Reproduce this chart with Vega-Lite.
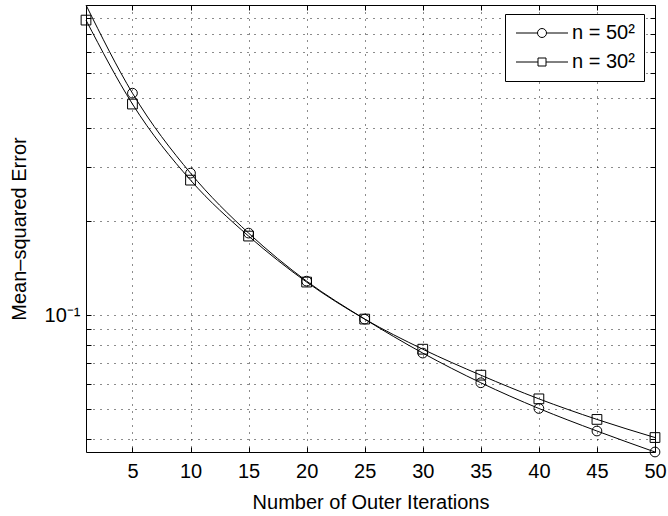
{
  "$schema": "https://vega.github.io/schema/vega-lite/v6.json",
  "width": 569,
  "height": 447,
  "autosize": {"type": "none"},
  "padding": {"left": 86, "top": 5, "right": 13, "bottom": 64},
  "config": {
    "font": "Liberation Sans",
    "view": {"stroke": "black", "strokeWidth": 1},
    "axis": {
      "domain": false,
      "tickColor": "black",
      "tickSize": -5,
      "labelColor": "black",
      "titleColor": "black",
      "labelFont": "Liberation Sans",
      "titleFont": "Liberation Sans",
      "labelFontSize": 20,
      "titleFontSize": 20,
      "titleFontWeight": "normal",
      "gridColor": "black",
      "gridDash": [1, 6],
      "gridWidth": 1,
      "gridOpacity": 0.9
    }
  },
  "data": {
    "values": [
      {"series": "n = 50²", "iter": 1, "mse": 0.993, "marker": false},
      {"series": "n = 50²", "iter": 5, "mse": 0.517, "marker": true},
      {"series": "n = 50²", "iter": 10, "mse": 0.286, "marker": true},
      {"series": "n = 50²", "iter": 15, "mse": 0.1835, "marker": true},
      {"series": "n = 50²", "iter": 20, "mse": 0.1286, "marker": true},
      {"series": "n = 50²", "iter": 25, "mse": 0.0971, "marker": true},
      {"series": "n = 50²", "iter": 30, "mse": 0.0755, "marker": true},
      {"series": "n = 50²", "iter": 35, "mse": 0.0606, "marker": true},
      {"series": "n = 50²", "iter": 40, "mse": 0.0501, "marker": true},
      {"series": "n = 50²", "iter": 45, "mse": 0.0424, "marker": true},
      {"series": "n = 50²", "iter": 50, "mse": 0.0363, "marker": true},
      {"series": "n = 30²", "iter": 1, "mse": 0.888, "marker": true},
      {"series": "n = 30²", "iter": 5, "mse": 0.477, "marker": true},
      {"series": "n = 30²", "iter": 10, "mse": 0.2716, "marker": true},
      {"series": "n = 30²", "iter": 15, "mse": 0.1795, "marker": true},
      {"series": "n = 30²", "iter": 20, "mse": 0.1277, "marker": true},
      {"series": "n = 30²", "iter": 25, "mse": 0.0971, "marker": true},
      {"series": "n = 30²", "iter": 30, "mse": 0.0777, "marker": true},
      {"series": "n = 30²", "iter": 35, "mse": 0.0641, "marker": true},
      {"series": "n = 30²", "iter": 40, "mse": 0.0538, "marker": true},
      {"series": "n = 30²", "iter": 45, "mse": 0.0462, "marker": true},
      {"series": "n = 30²", "iter": 50, "mse": 0.0404, "marker": true}
    ]
  },
  "layer": [
    {
      "mark": {"type": "line", "interpolate": "monotone", "color": "black", "strokeWidth": 1},
      "encoding": {
        "x": {
          "field": "iter", "type": "quantitative",
          "scale": {"domain": [1, 50], "nice": false, "zero": false},
          "axis": {
            "orient": "bottom",
            "title": "Number of Outer Iterations",
            "values": [5, 10, 15, 20, 25, 30, 35, 40, 45, 50],
            "grid": true,
            "labelPadding": 14,
            "titlePadding": 11,
            "labelFlush": false
          }
        },
        "y": {
          "field": "mse", "type": "quantitative",
          "scale": {"type": "log", "domain": [0.0363, 0.993], "nice": false},
          "axis": {
            "orient": "left",
            "title": "Mean–squared Error",
            "values": [0.04, 0.05, 0.06, 0.07, 0.08, 0.09, 0.1, 0.2, 0.3, 0.4, 0.5, 0.6, 0.7, 0.8, 0.9],
            "labelExpr": "datum.value == 0.1 ? '10⁻¹' : ''",
            "grid": true,
            "labelPadding": 11,
            "titlePadding": 15
          }
        },
        "detail": {"field": "series"}
      }
    },
    {
      "transform": [{"filter": "datum.marker"}],
      "mark": {"type": "point", "filled": false, "color": "black", "strokeWidth": 1, "size": 95, "opacity": 1},
      "encoding": {
        "x": {
          "field": "iter", "type": "quantitative",
          "scale": {"domain": [1, 50], "nice": false, "zero": false},
          "axis": {
            "orient": "top", "title": null, "labels": false, "grid": false,
            "values": [5, 10, 15, 20, 25, 30, 35, 40, 45, 50]
          }
        },
        "y": {
          "field": "mse", "type": "quantitative",
          "scale": {"type": "log", "domain": [0.0363, 0.993], "nice": false},
          "axis": {
            "orient": "right", "title": null, "labels": false, "grid": false,
            "values": [0.04, 0.05, 0.06, 0.07, 0.08, 0.09, 0.1, 0.2, 0.3, 0.4, 0.5, 0.6, 0.7, 0.8, 0.9]
          }
        },
        "shape": {
          "field": "series", "type": "nominal",
          "scale": {"domain": ["n = 50²", "n = 30²"], "range": ["circle", "square"]},
          "legend": null
        }
      }
    },
    {
      "transform": [{"filter": "datum.iter == 25"}],
      "mark": {"type": "point", "filled": false, "color": "black", "strokeWidth": 1, "opacity": 0},
      "encoding": {
        "x": {"field": "iter", "type": "quantitative", "scale": {"domain": [1, 50], "nice": false, "zero": false}, "axis": null},
        "y": {"field": "mse", "type": "quantitative", "scale": {"type": "log", "domain": [0.0363, 0.993], "nice": false}, "axis": null},
        "shape": {
          "field": "series", "type": "nominal",
          "scale": {
            "domain": ["n = 50²", "n = 30²"],
            "range": [
              "M-5.2,0H-0.9M0.9,0H5.2M0.9,0A0.9,0.9,0,1,1,-0.9,0A0.9,0.9,0,1,1,0.9,0",
              "M-5.2,0H-0.8M0.8,0H5.2M-0.8,-0.8H0.8V0.8H-0.8Z"
            ]
          },
          "legend": {
            "title": null,
            "orient": "none",
            "legendX": 419,
            "legendY": 9,
            "direction": "vertical",
            "fillColor": "white",
            "strokeColor": "black",
            "padding": 9,
            "rowPadding": 9,
            "labelFont": "Liberation Sans",
            "labelFontSize": 20,
            "labelColor": "black",
            "labelOffset": 20,
            "symbolOffset": 18,
            "symbolSize": 100,
            "symbolOpacity": 1,
            "symbolStrokeColor": "black",
            "symbolFillColor": "transparent",
            "symbolStrokeWidth": 1,
            "encode": {
              "symbols": {
                "update": {
                  "opacity": {"value": 1},
                  "size": {"value": 100},
                  "fill": {"value": "transparent"},
                  "stroke": {"value": "black"}
                }
              }
            }
          }
        }
      }
    }
  ],
  "resolve": {"axis": {"x": "independent", "y": "independent"}, "scale": {"shape": "independent"}}
}
